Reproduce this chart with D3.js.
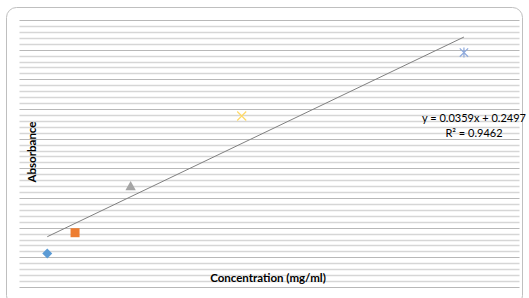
<!DOCTYPE html>
<html>
<head>
<meta charset="utf-8">
<script src="https://cdn.jsdelivr.net/npm/d3@7"></script>
<style>
  body { margin: 0; background: #fff; }
  svg text { font-family: Lato, "Open Sans", sans-serif; fill: #000; }
</style>
</head>
<body>
<div id="chart"></div>
<script>
// standard curve points (one series per point, as in the sheet)
var concentration = [1, 2, 4, 8, 16];
var absorbance = [0.2405, 0.2964, 0.4213, 0.6111, 0.7822];
var markerShapes = ["diamond", "square", "triangle", "x", "star"];
var markerColors = ["#5b9bd5", "#ed7d31", "#a5a5a5", "#ffd966", "#8faadc"];
var slope = 0.0359, intercept = 0.2497;
var eqLabel = "y = 0.0359x + 0.2497";
var r2Label = "R² = 0.9462";
var xDomain = [0, 18];
var yDomain = [0.15, 0.87];

var W = 529, H = 298;
var svg = d3.select("#chart").append("svg").attr("width", W).attr("height", H);

// chart border
svg.append("rect")
  .attr("x", 6.5).attr("y", 7.5).attr("width", 516).attr("height", 298)
  .attr("rx", 10).attr("fill", "#fff").attr("stroke", "#bfbfbf").attr("stroke-width", 1);

var x = d3.scaleLinear().domain(xDomain).range([19.5, 519.5]);
var y = d3.scaleLinear().domain(yDomain).range([287, 20]);

// horizontal gridlines, 5 minor per major
var step = (yDomain[1] - yDomain[0]) / 45;
var gridVals = d3.range(46).map(function(i) { return yDomain[0] + i * step; });
svg.append("g").selectAll("line")
  .data(gridVals)
  .enter().append("line")
    .attr("x1", x(xDomain[0])).attr("x2", x(xDomain[1]))
    .attr("y1", function(d) { return Math.round(y(d)) + 0.5; })
    .attr("y2", function(d) { return Math.round(y(d)) + 0.5; })
    .attr("stroke", function(d, i) { return i % 5 == 0 ? "#b8b8b8" : "#d6d6d6"; })
    .attr("stroke-width", function(d, i) { return i % 5 == 0 ? 1.2 : 1.5; });

// linear trendline
var trend = [concentration[0], concentration[concentration.length - 1]];
svg.append("line")
  .attr("x1", x(trend[0])).attr("y1", y(slope * trend[0] + intercept))
  .attr("x2", x(trend[1])).attr("y2", y(slope * trend[1] + intercept))
  .attr("stroke", "#808080").attr("stroke-width", 1);

var pts = concentration.map(function(c, i) {
  return {x: c, y: absorbance[i], shape: markerShapes[i], color: markerColors[i]};
});

function markerPath(shape) {
  if (shape == "diamond") return "M0,-5L5,0L0,5L-5,0Z";
  if (shape == "square") return "M-4.5,-4.5H4.5V4.5H-4.5Z";
  if (shape == "triangle") return "M0,-5.5L5.2,3.8H-5.2Z";
  if (shape == "x") return "M-4.5,-4.5L4.5,4.5M4.5,-4.5L-4.5,4.5";
  return "M-4.2,-4.2L4.2,4.2M4.2,-4.2L-4.2,4.2M0,-5V5";
}

svg.append("g").selectAll("path")
  .data(pts)
  .enter().append("path")
    .attr("transform", function(d) { return "translate(" + x(d.x) + "," + y(d.y) + ")"; })
    .attr("d", function(d) { return markerPath(d.shape); })
    .attr("fill", function(d) { return (d.shape == "x" || d.shape == "star") ? "none" : d.color; })
    .attr("stroke", function(d) { return d.color; })
    .attr("stroke-width", function(d) { return (d.shape == "x" || d.shape == "star") ? 1.2 : 0; });

// trendline label
svg.append("text").attr("x", 474).attr("y", 122).attr("text-anchor", "middle")
  .style("font-size", "11px").text(eqLabel);
svg.append("text").attr("x", 474).attr("y", 137).attr("text-anchor", "middle")
  .style("font-size", "11px").text(r2Label);

// axis titles
svg.append("text").attr("x", 268).attr("y", 282).attr("text-anchor", "middle")
  .style("font-size", "11.5px").style("font-weight", "bold").text("Concentration (mg/ml)");
svg.append("text").attr("transform", "translate(36,152) rotate(-90)").attr("text-anchor", "middle")
  .style("font-size", "11.5px").style("font-weight", "bold").text("Absorbance");
</script>
</body>
</html>
